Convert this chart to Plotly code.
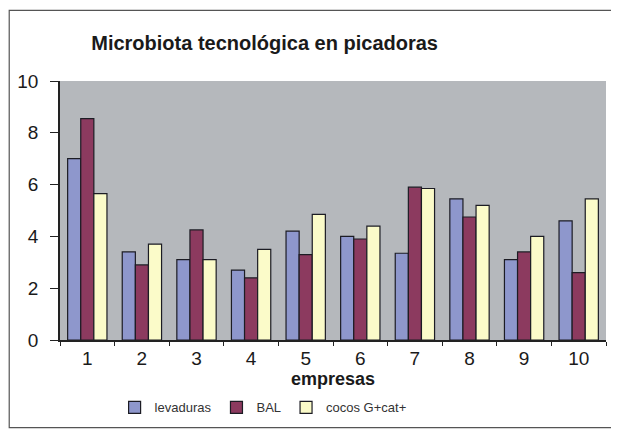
import plotly.graph_objects as go

empresas = ["1", "2", "3", "4", "5", "6", "7", "8", "9", "10"]
levaduras = [7.0, 3.4, 3.1, 2.7, 4.2, 4.0, 3.35, 5.45, 3.1, 4.6]
bal = [8.55, 2.9, 4.25, 2.4, 3.3, 3.9, 5.9, 4.75, 3.4, 2.6]
cocos = [5.65, 3.7, 3.1, 3.5, 4.85, 4.4, 5.85, 5.2, 4.0, 5.45]

series = [
    ("levaduras", levaduras, "#8e97cc"),
    ("BAL", bal, "#8c3a5f"),
    ("cocos G+cat+", cocos, "#fbfbc9"),
]

fig = go.Figure()
for name, vals, color in series:
    fig.add_trace(go.Bar(
        x=empresas, y=vals, name=name,
        marker=dict(color=color, line=dict(color="#1c1c24", width=1.2)),
    ))

# the page body has an 8px margin, so the figure is sized to fit inside it
fig.update_layout(
    width=611, height=423,
    margin=dict(l=52, r=13, t=73, b=91, autoexpand=False),
    paper_bgcolor="white", plot_bgcolor="#b5b8bc",
    barmode="group", bargap=0.28, bargroupgap=0,
    font=dict(family="Arial, Liberation Sans, sans-serif", color="#1a1a1a"),
    title=dict(text="<b>Microbiota tecnológica en picadoras</b>",
               x=0.42, xanchor="center", y=0.917, yanchor="middle",
               font=dict(size=20)),
    xaxis=dict(
        title=dict(text="<b>empresas</b>", font=dict(size=18), standoff=0),
        tickfont=dict(size=19), showline=True, linecolor="#222", linewidth=1.5,
        ticks="outside", ticklen=4, tickcolor="#222", tickson="boundaries",
        automargin=False,
    ),
    yaxis=dict(
        range=[0, 10], dtick=2, tickfont=dict(size=19), showgrid=False,
        showline=True, linecolor="#222", linewidth=1.5,
        ticks="outside", ticklen=8, tickcolor="#222", zeroline=False,
        ticklabelstandoff=8, automargin=False,
    ),
    legend=dict(orientation="h", x=0.1, xanchor="left", y=-0.26, yanchor="middle",
                font=dict(size=13, color="#333"), itemwidth=30, traceorder="normal",
                bgcolor="rgba(0,0,0,0)"),
    shapes=[dict(type="rect", xref="paper", yref="paper",
                 x0=-0.093, x1=1.0165, y0=-0.338, y1=1.273,
                 line=dict(color="#555", width=1.2))],
)

fig.write_html("out.html")
